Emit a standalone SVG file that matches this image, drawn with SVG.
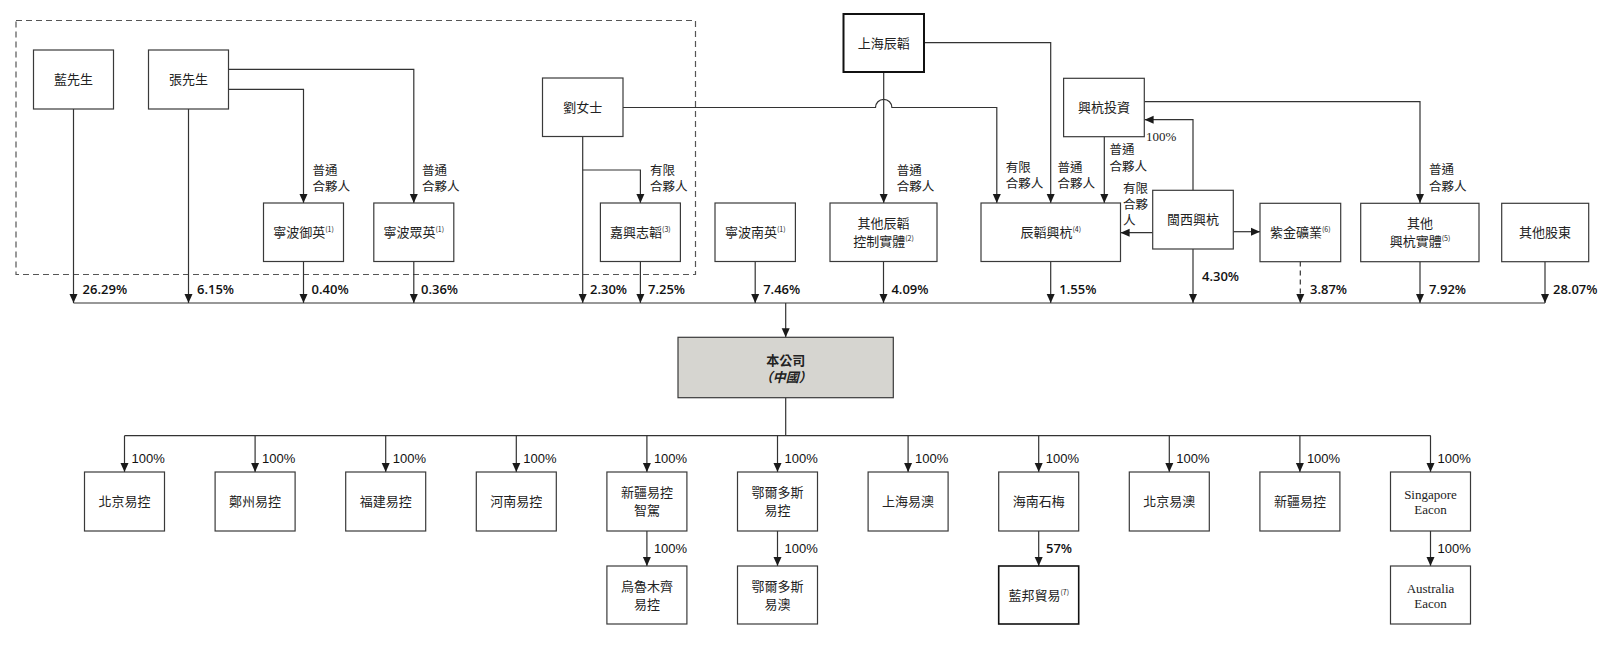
<svg xmlns="http://www.w3.org/2000/svg" width="1618" height="646" viewBox="0 0 1618 646">
<defs>
<marker id="ah" markerWidth="10" markerHeight="10" refX="9" refY="5" orient="auto" markerUnits="userSpaceOnUse">
<path d="M0,1 L9,5 L0,9 Z" fill="#1a1a1a"/>
</marker>
<style>
.bx{fill:#fff;stroke:#3a3a3a;stroke-width:1.2}
.bxk{fill:#fff;stroke:#111;stroke-width:2}
.co{fill:#d6d5d0;stroke:#3a3a3a;stroke-width:1.2}
.ln{fill:none;stroke:#333;stroke-width:1.2}
.ar{fill:none;stroke:#333;stroke-width:1.2;marker-end:url(#ah)}
.dsh{fill:none;stroke:#555;stroke-width:1.2;stroke-dasharray:6,4}
.t{font-family:"Noto Sans CJK TC","Noto Sans CJK SC",sans-serif;font-size:13px;fill:#222;text-anchor:middle}
.lb{font-family:"Noto Sans CJK TC","Noto Sans CJK SC",sans-serif;font-size:12.5px;fill:#222}
.p{font-family:"Open Sans","Noto Sans",sans-serif;font-size:13px;fill:#111;font-weight:600}
.q{font-family:"Liberation Sans",Arial,sans-serif;font-size:13px;fill:#111}
.s{font-family:"Liberation Serif","Times New Roman",serif;font-size:13px;fill:#222;text-anchor:middle}
.sr{font-family:"Liberation Serif","Times New Roman",serif;font-size:13px;fill:#222}
.sup{font-size:7px}
</style>
</defs>

<rect class="dsh" x="16" y="20.5" width="679.5" height="254"/>

<g id="connectors">
<path class="ar" d="M73.5,109 V303"/>
<path class="ar" d="M188.5,109 V303"/>
<path class="ar" d="M228.5,89.3 H303.5 V203"/>
<path class="ar" d="M228.5,69.3 H413.8 V203"/>
<path class="ar" d="M303.5,261.5 V303"/>
<path class="ar" d="M413.8,261.5 V303"/>
<path class="ar" d="M582.7,136.5 V303"/>
<path class="ar" d="M582.7,170 H640.4 V203"/>
<path class="ar" d="M640.4,261.5 V303"/>
<path class="ar" d="M623,107.5 H875.5 A8.2,8.2 0 0 1 891.9,107.5 H996.8 V203"/>
<path class="ar" d="M883.7,72 V203"/>
<path class="ar" d="M924,42.7 H1050.7 V203"/>
<path class="ar" d="M1104.3,136.7 V203"/>
<path class="ar" d="M1144.3,101.7 H1420 V203"/>
<path class="ar" d="M1193,190.3 V119.7 H1144.6"/>
<path class="ar" d="M1152.7,232.7 H1120.6"/>
<path class="ar" d="M1233.3,231.7 H1260"/>
<path class="ar" d="M1193,249 V303"/>
<path class="ar" d="M1300.3,261.5 V303" style="stroke-dasharray:5,4"/>
<path class="ar" d="M1420,261.5 V303"/>
<path class="ar" d="M1545,261.5 V303"/>
<path class="ar" d="M755.2,261.5 V303"/>
<path class="ar" d="M883.5,261.5 V303"/>
<path class="ar" d="M1050.7,261.5 V303"/>
<path class="ln" d="M73.5,303 H1545"/>
<path class="ar" d="M785.7,303 V337.3"/>
<path class="ln" d="M785.7,397.7 V435.7"/>
<path class="ln" d="M124.5,435.7 H1430.7"/>
<path class="ar" d="M124.5,435.7 V472"/>
<path class="ar" d="M255.1,435.7 V472"/>
<path class="ar" d="M385.7,435.7 V472"/>
<path class="ar" d="M516.3,435.7 V472"/>
<path class="ar" d="M646.9,435.7 V472"/>
<path class="ar" d="M777.5,435.7 V472"/>
<path class="ar" d="M908.1,435.7 V472"/>
<path class="ar" d="M1038.7,435.7 V472"/>
<path class="ar" d="M1169.3,435.7 V472"/>
<path class="ar" d="M1299.9,435.7 V472"/>
<path class="ar" d="M1430.5,435.7 V472"/>
<path class="ar" d="M646.9,531 V566"/>
<path class="ar" d="M777.5,531 V566"/>
<path class="ar" d="M1038.7,531 V566"/>
<path class="ar" d="M1430.5,531 V566"/>
</g>

<g id="edge-labels">
<text class="lb" x="312.5" y="175">普通</text><text class="lb" x="312.5" y="191">合夥人</text>
<text class="lb" x="422" y="175">普通</text><text class="lb" x="422" y="191">合夥人</text>
<text class="lb" x="650" y="175">有限</text><text class="lb" x="650" y="191">合夥人</text>
<text class="lb" x="896.8" y="175">普通</text><text class="lb" x="896.8" y="191">合夥人</text>
<text class="lb" x="1005.7" y="171.5">有限</text><text class="lb" x="1005.7" y="187.5">合夥人</text>
<text class="lb" x="1057.5" y="171.5">普通</text><text class="lb" x="1057.5" y="187.5">合夥人</text>
<text class="lb" x="1109.6" y="154">普通</text><text class="lb" x="1109.6" y="170.5">合夥人</text>
<text class="lb" x="1123" y="193">有限</text><text class="lb" x="1123" y="209">合夥</text><text class="lb" x="1123" y="225">人</text>
<text class="lb" x="1429" y="174">普通</text><text class="lb" x="1429" y="191">合夥人</text>
<text class="sr" x="1146" y="141">100%</text>
<text class="p" x="82.6" y="294">26.29%</text>
<text class="p" x="197" y="294">6.15%</text>
<text class="p" x="311.6" y="294">0.40%</text>
<text class="p" x="421" y="294">0.36%</text>
<text class="p" x="590" y="294">2.30%</text>
<text class="p" x="648" y="294">7.25%</text>
<text class="p" x="763.2" y="294">7.46%</text>
<text class="p" x="891.4" y="294">4.09%</text>
<text class="p" x="1059.3" y="294">1.55%</text>
<text class="p" x="1202" y="281">4.30%</text>
<text class="p" x="1310" y="294">3.87%</text>
<text class="p" x="1429" y="294">7.92%</text>
<text class="p" x="1553" y="294">28.07%</text>
<text class="q" x="131.5" y="463">100%</text>
<text class="q" x="262.1" y="463">100%</text>
<text class="q" x="392.7" y="463">100%</text>
<text class="q" x="523.3" y="463">100%</text>
<text class="q" x="653.9" y="463">100%</text>
<text class="q" x="784.5" y="463">100%</text>
<text class="q" x="915.1" y="463">100%</text>
<text class="q" x="1045.7" y="463">100%</text>
<text class="q" x="1176.3" y="463">100%</text>
<text class="q" x="1306.9" y="463">100%</text>
<text class="q" x="1437.5" y="463">100%</text>
<text class="q" x="653.9" y="553">100%</text>
<text class="q" x="784.5" y="553">100%</text>
<text class="p" x="1046" y="553">57%</text>
<text class="q" x="1437.5" y="553">100%</text>
</g>

<g id="n-lan"><rect class="bx" x="33.5" y="50" width="80" height="59"/><text class="t" x="73.5" y="84">藍先生</text></g>
<g id="n-zhang"><rect class="bx" x="148.5" y="50" width="80" height="59"/><text class="t" x="188.5" y="84">張先生</text></g>
<g id="n-liu"><rect class="bx" x="542.5" y="78" width="80.5" height="58.5"/><text class="t" x="582.7" y="112">劉女士</text></g>
<g id="n-yuying"><rect class="bx" x="263.5" y="203" width="80" height="58.5"/><text class="t" x="303.5" y="237">寧波御英<tspan class="sup" dy="-5">(1)</tspan></text></g>
<g id="n-zhongying"><rect class="bx" x="373.8" y="203" width="80" height="58.5"/><text class="t" x="413.8" y="237">寧波眾英<tspan class="sup" dy="-5">(1)</tspan></text></g>
<g id="n-jiaxing"><rect class="bx" x="600.4" y="203" width="80" height="58.5"/><text class="t" x="640.4" y="237">嘉興志韜<tspan class="sup" dy="-5">(3)</tspan></text></g>
<g id="n-nanying"><rect class="bx" x="715" y="203" width="80.4" height="58.5"/><text class="t" x="755.2" y="237">寧波南英<tspan class="sup" dy="-5">(1)</tspan></text></g>
<g id="n-qitachentao"><rect class="bx" x="830" y="203" width="107" height="58.5"/><text class="t" x="883.5" y="228">其他辰韜</text><text class="t" x="883.5" y="245.5">控制實體<tspan class="sup" dy="-5">(2)</tspan></text></g>
<g id="n-shanghaichentao"><rect class="bxk" x="843.5" y="14" width="80.5" height="58"/><text class="t" x="883.7" y="47.5">上海辰韜</text></g>
<g id="n-chentaoxinghang"><rect class="bx" x="981" y="203" width="139.5" height="58.5"/><text class="t" x="1050.7" y="237">辰韜興杭<tspan class="sup" dy="-5">(4)</tspan></text></g>
<g id="n-xinghangtouzi"><rect class="bx" x="1063.6" y="78.3" width="80.7" height="58.4"/><text class="t" x="1104" y="112">興杭投資</text></g>
<g id="n-minxi"><rect class="bx" x="1152.7" y="190.3" width="80.6" height="58.7"/><text class="t" x="1193" y="224">閩西興杭</text></g>
<g id="n-zijin"><rect class="bx" x="1260" y="203.3" width="80.7" height="58.4"/><text class="t" x="1300.3" y="237">紫金礦業<tspan class="sup" dy="-5">(6)</tspan></text></g>
<g id="n-qitaxinghang"><rect class="bx" x="1360.7" y="203.3" width="118.3" height="58.4"/><text class="t" x="1420" y="228">其他</text><text class="t" x="1420" y="246">興杭實體<tspan class="sup" dy="-5">(5)</tspan></text></g>
<g id="n-qitagudong"><rect class="bx" x="1501.7" y="203.3" width="87" height="58.4"/><text class="t" x="1545" y="237">其他股東</text></g>

<g id="n-company"><rect class="co" x="678" y="337.3" width="215.3" height="60.4"/><text class="t" x="785.7" y="364.5" style="font-weight:600">本公司</text><text class="t" x="785.7" y="381.5" style="font-style:italic;font-weight:600">（中國）</text></g>

<g id="n-bjyk"><rect class="bx" x="84.5" y="472" width="80" height="59"/><text class="t" x="124.5" y="506">北京易控</text></g>
<g id="n-zzyk"><rect class="bx" x="215.1" y="472" width="80" height="59"/><text class="t" x="255.1" y="506">鄭州易控</text></g>
<g id="n-fjyk"><rect class="bx" x="345.7" y="472" width="80" height="59"/><text class="t" x="385.7" y="506">福建易控</text></g>
<g id="n-hnyk"><rect class="bx" x="476.3" y="472" width="80" height="59"/><text class="t" x="516.3" y="506">河南易控</text></g>
<g id="n-xjykzj"><rect class="bx" x="606.9" y="472" width="80" height="59"/><text class="t" x="646.9" y="497">新疆易控</text><text class="t" x="646.9" y="514.5">智駕</text></g>
<g id="n-edeskyk"><rect class="bx" x="737.5" y="472" width="80" height="59"/><text class="t" x="777.5" y="497">鄂爾多斯</text><text class="t" x="777.5" y="514.5">易控</text></g>
<g id="n-shya"><rect class="bx" x="868.1" y="472" width="80" height="59"/><text class="t" x="908.1" y="506">上海易澳</text></g>
<g id="n-hnsm"><rect class="bx" x="998.7" y="472" width="80" height="59"/><text class="t" x="1038.7" y="506">海南石梅</text></g>
<g id="n-bjya"><rect class="bx" x="1129.3" y="472" width="80" height="59"/><text class="t" x="1169.3" y="506">北京易澳</text></g>
<g id="n-xjyk"><rect class="bx" x="1259.9" y="472" width="80" height="59"/><text class="t" x="1299.9" y="506">新疆易控</text></g>
<g id="n-sgeacon"><rect class="bx" x="1390.5" y="472" width="80" height="59"/><text class="s" x="1430.5" y="498.5">Singapore</text><text class="s" x="1430.5" y="514">Eacon</text></g>
<g id="n-wlmqyk"><rect class="bx" x="606.9" y="566" width="80" height="58"/><text class="t" x="646.9" y="591">烏魯木齊</text><text class="t" x="646.9" y="608.5">易控</text></g>
<g id="n-edesya"><rect class="bx" x="737.5" y="566" width="80" height="58"/><text class="t" x="777.5" y="591">鄂爾多斯</text><text class="t" x="777.5" y="608.5">易澳</text></g>
<g id="n-lbmy"><rect class="bx" x="998.7" y="566" width="80" height="58" style="stroke:#111;stroke-width:1.6"/><text class="t" x="1038.7" y="600">藍邦貿易<tspan class="sup" dy="-5">(7)</tspan></text></g>
<g id="n-aueacon"><rect class="bx" x="1390.5" y="566" width="80" height="58"/><text class="s" x="1430.5" y="592.5">Australia</text><text class="s" x="1430.5" y="608">Eacon</text></g>
</svg>
